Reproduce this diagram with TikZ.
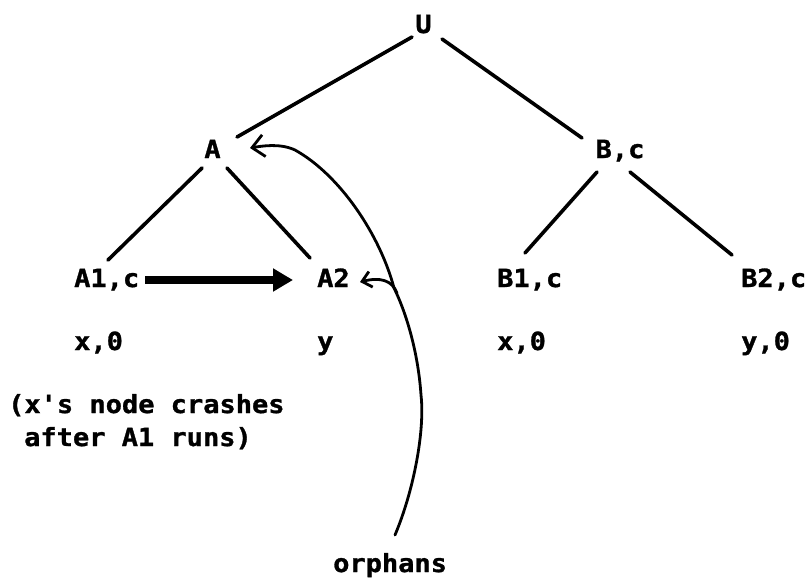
\documentclass[tikz,border=0pt]{standalone}
\usepackage{fontspec}
\setmonofont[FakeStretch=1.08,BoldFeatures={FakeBold=1.2}]{DejaVu Sans Mono}
\usetikzlibrary{arrows.meta,calc}
\begin{document}
\begin{tikzpicture}[x=1pt,y=-1pt,
  lbl/.style={inner sep=0pt, font={\ttfamily\bfseries\fontsize{25}{33}\selectfont}},
  edge/.style={line width=3.6pt, line cap=round},
  ptr/.style={line width=2.8pt, line cap=round, -{Straight Barb[length=12pt,width=22pt]}},
  ptrsmall/.style={line width=2.8pt, line cap=round, -{Straight Barb[length=9pt,width=16pt]}},
  big/.style={line width=7.5pt, -{Triangle[length=20pt,width=22pt]}}]
\useasboundingbox (0,0) rectangle (806,578);
\node[lbl, anchor=base] (U) at (423.5,33) {U};
\node[lbl, anchor=base] (A) at (212.5,158) {A};
\node[lbl, anchor=base] (B) at (620,158) {B,c};
\node[lbl, anchor=base west] (A1) at (74,287) {A1,c};
\node[lbl, anchor=base west] (A2) at (317,287) {A2};
\node[lbl, anchor=base west] (B1) at (497,287) {B1,c};
\node[lbl, anchor=base west] (B2) at (741,287) {B2,c};
\node[lbl, anchor=base west] (xa) at (74,350) {x,0};
\node[lbl, anchor=base west] (ya) at (317,350) {y};
\node[lbl, anchor=base west] (xb) at (497,350) {x,0};
\node[lbl, anchor=base west] (yb) at (741,350) {y,0};
\node[lbl, anchor=base west] (c1) at (8,413) {(x's node crashes};
\node[lbl, anchor=base west] (c2) at (24,446) {after A1 runs)};
\node[lbl, anchor=base west] (orph) at (333,572) {orphans};
% tree edges
\draw[edge] ($(U.base)+(-11.5,4)$) -- ($(A.base)+(24.5,-21)$);
\draw[edge] ($(U.base)+(18.5,6)$) -- ($(B.base)+(-38,-20)$);
\draw[edge] ($(A.base)+(-10.5,10)$) -- ($(A1.base west)+(34,-27)$);
\draw[edge] ($(A.base)+(14.5,10)$) -- ($(A2.base west)+(-7,-29)$);
\draw[edge] ($(B.base)+(-23,14)$) -- ($(B1.base west)+(28,-34)$);
\draw[edge] ($(B.base)+(10,14)$) -- ($(B2.base west)+(-9,-32)$);
% thick arrow
\draw[big] ($(A1.base west)+(71,-7)$) -- ($(A2.base west)+(-24,-7)$);
% orphans curve
\coordinate (cs) at ($(orph.base west)+(62,-37)$);
\coordinate (ct) at ($(A.base)+(37.5,-10)$);
\coordinate (cb) at (394,288);
\coordinate (cbr) at (397,293);
\draw[ptr] (cs) .. controls (414,490) and (425,430) .. (421,395)
  .. controls (418,350) and (405,310) .. (cb)
  .. controls (380,235) and (340,175) .. (295,150)
  .. controls (280,143) and (262,146) .. (ct);
\draw[ptrsmall] (cbr) .. controls (392,280) and (380,277) .. ($(A2.base west)+(43,-5)$);
\end{tikzpicture}
\end{document}
